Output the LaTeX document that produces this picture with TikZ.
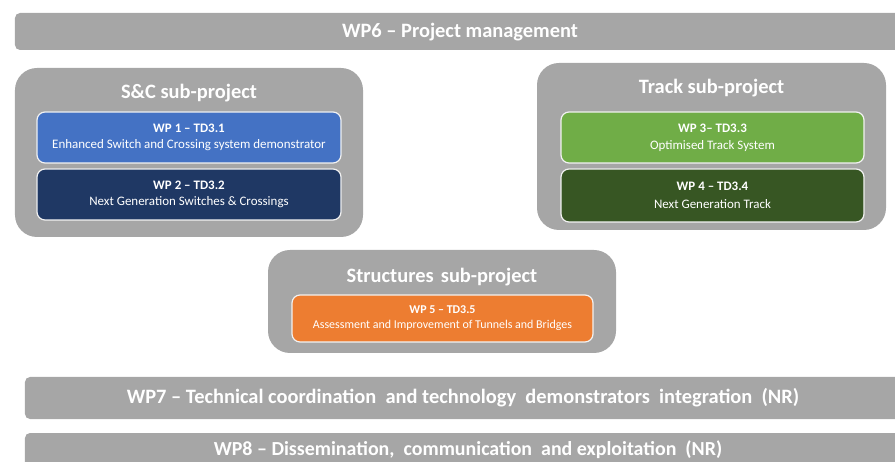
\documentclass[tikz,border=0pt]{standalone}
\usepackage{fontspec}
\setmainfont{Carlito}
\definecolor{barg}{HTML}{A6A6A6}
\definecolor{wpblue}{HTML}{4472C4}
\definecolor{wpnavy}{HTML}{1F3864}
\definecolor{wpgreen}{HTML}{70AD47}
\definecolor{wpdkgreen}{HTML}{375623}
\definecolor{wporange}{HTML}{ED7D31}
\begin{document}
\begin{tikzpicture}[x=1bp,y=-1bp,
  bar/.style={fill=barg, draw=none, rounded corners=5bp, inner sep=0pt},
  outerbox/.style={fill=barg, draw=none, rounded corners=22bp, inner sep=0pt},
  bartext/.style={text=white, font=\bfseries\fontsize{20.5}{24}\selectfont, inner sep=0pt},
  subtitle/.style={text=white, font=\bfseries\fontsize{20.5}{24}\selectfont, inner sep=0pt},
  wpbox/.style={draw=white!90!gray, line width=1.2bp, rounded corners=8bp, text=white, align=center, inner sep=0pt, font=\fontsize{13}{16.5}\selectfont},
]
\useasboundingbox (0,0) rectangle (895,462);
\clip (0,0) rectangle (895,462);
% WP6 bar
\node[bar, minimum width=890bp, minimum height=37bp] (wp6) at (460,31.5) {};
\node[bartext] (wp6t) at (460,32.5) {WP6 – Project management};
% S&C
\node[outerbox, minimum width=348bp, minimum height=169bp] (sc) at (189,152.5) {};
\node[subtitle] (sct) at (189,93) {S\&C sub-project};
\node[wpbox, fill=wpblue, minimum width=304bp, minimum height=51bp] (wp1) at (189,137.5)
  {{\bfseries WP 1 – TD3.1}\\Enhanced Switch and Crossing system demonstrator};
\node[wpbox, fill=wpnavy, minimum width=304bp, minimum height=51bp] (wp2) at (189,194.5)
  {{\bfseries WP 2 – TD3.2}\\Next Generation Switches \& Crossings};
% Track
\node[outerbox, minimum width=349bp, minimum height=167bp] (tr) at (711.5,146.5) {};
\node[subtitle] (trt) at (711.5,88) {Track sub-project};
\node[wpbox, fill=wpgreen, minimum width=303bp, minimum height=51bp, font=\fontsize{13}{17}\selectfont] (wp3) at (712.5,137.5)
  {{\bfseries WP 3– TD3.3}\\Optimised Track System};
\node[wpbox, fill=wpdkgreen, minimum width=303bp, minimum height=53bp, font=\fontsize{13}{17.5}\selectfont] (wp4) at (712.5,195.5)
  {{\bfseries WP 4 – TD3.4}\\Next Generation Track};
% Structures
\node[outerbox, minimum width=348bp, minimum height=103bp] (st) at (442,301.5) {};
\node[subtitle] (stt) at (442,277) {Structures\hspace{0.35em}sub-project};
\node[wpbox, fill=wporange, minimum width=301bp, minimum height=47bp, font=\fontsize{12}{15}\selectfont] (wp5) at (442.5,318.5)
  {{\bfseries WP 5 – TD3.5}\\Assessment and Improvement of Tunnels and Bridges};
% WP7, WP8
\node[bar, minimum width=880bp, minimum height=42bp] (wp7) at (465,398) {};
\node[bartext] (wp7t) at (463,398) {WP7 – Technical coordination\ \ and technology\ \ demonstrators\ \ integration\ \ (NR)};
\node[bar, minimum width=880bp, minimum height=47bp] (wp8) at (465,456.5) {};
\node[bartext, font=\bfseries\fontsize{20}{24}\selectfont] (wp8t) at (468,450) {WP8 – Dissemination,\ \ communication\ \ and exploitation\ \ (NR)};
\end{tikzpicture}
\end{document}
